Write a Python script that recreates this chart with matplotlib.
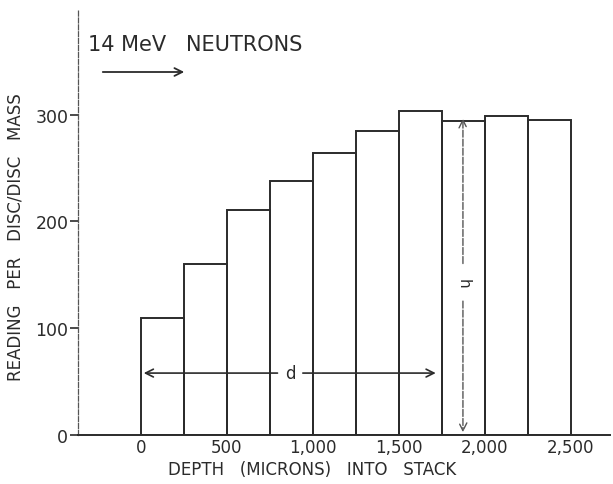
import numpy as np
import matplotlib.pyplot as plt

# stack of discs, 250 micron each
depth_edges = [0, 250, 500, 750, 1000, 1250, 1500, 1750, 2000, 2250, 2500]
readings = [110, 160, 211, 238, 264, 285, 303, 294, 299, 295]

x_ticks = [0, 500, 1000, 1500, 2000, 2500]
x_tick_labels = ['0', '500', '1,000', '1,500', '2,000', '2,500']
y_ticks = [0, 100, 200, 300]

d_span = (0, 1730)
h_pos = 1872
h_top = 299

ink = '#2b2b2b'

fig = plt.figure(figsize=(6.13, 4.85), dpi=100)
ax = fig.add_axes([78 / 613, 49 / 485, 532 / 613, 426 / 485])
ax.set_xlim(-366, 2727)
ax.set_ylim(0, 399)

widths = np.diff(depth_edges)
ax.bar(depth_edges[:-1], readings, width=widths, align='edge', fill=False,
       edgecolor=ink, linewidth=1.4)

for s in ['top', 'right']:
    ax.spines[s].set_visible(False)
ax.spines['bottom'].set_color(ink)
ax.spines['bottom'].set_linewidth(1.4)
ax.spines['left'].set_color('#555555')
ax.spines['left'].set_linewidth(0.9)
ax.spines['left'].set_linestyle((0, (4, 1.5)))

ax.set_yticks(y_ticks)
ax.set_yticklabels([str(v) for v in y_ticks], fontsize=12.5, color=ink)
ax.tick_params(axis='y', direction='out', length=6, width=1.2, color=ink, pad=1)
ax.set_xticks(x_ticks)
ax.set_xticklabels(x_tick_labels, fontsize=12, color=ink)
ax.tick_params(axis='x', length=0, pad=2)

ax.set_xlabel('DEPTH   (MICRONS)   INTO   STACK', fontsize=12, color=ink)
ax.xaxis.set_label_coords(0.44, -0.058)
ax.set_ylabel('READING   PER   DISC/DISC   MASS', fontsize=12, color=ink)
ax.yaxis.set_label_coords(-0.1, 0.467)

# beam direction
fig.text(88 / 613, 1 - 45 / 485, '14 MeV   NEUTRONS', fontsize=15, color=ink,
         va='center', ha='left')
fig.patches.append(plt.matplotlib.patches.FancyArrowPatch(
    (100 / 613, 1 - 73 / 485), (187 / 613, 1 - 73 / 485),
    transform=fig.transFigure, arrowstyle='->', mutation_scale=14,
    color=ink, linewidth=1.3))

# d : depth span
ax.annotate('', xy=(d_span[0], 58), xytext=(810, 58),
            arrowprops=dict(arrowstyle='->', color=ink, lw=1.2, mutation_scale=14))
ax.annotate('', xy=(d_span[1], 58), xytext=(925, 58),
            arrowprops=dict(arrowstyle='->', color=ink, lw=1.2, mutation_scale=14))
ax.text(867, 58, 'd', fontsize=12, color=ink, ha='center', va='center')

# h : height of plateau
ax.annotate('', xy=(h_pos, 0), xytext=(h_pos, 128),
            arrowprops=dict(arrowstyle='->', color='#555555', lw=1.0,
                            linestyle=(0, (5, 1.5)), mutation_scale=14))
ax.annotate('', xy=(h_pos, h_top), xytext=(h_pos, 158),
            arrowprops=dict(arrowstyle='->', color='#555555', lw=1.0,
                            linestyle=(0, (5, 1.5)), mutation_scale=14))
ax.text(h_pos, 143, 'h', fontsize=11, color=ink, ha='center', va='center',
        rotation=-90)

fig.savefig('out.png', dpi=100)
